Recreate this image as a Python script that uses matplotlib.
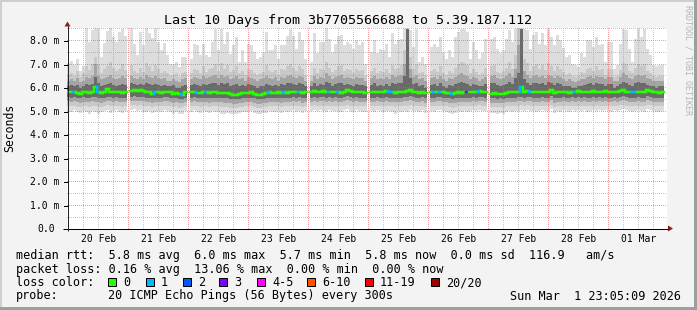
import numpy as np
import matplotlib
matplotlib.use("Agg")
import matplotlib.pyplot as plt
from matplotlib.patches import Rectangle, Polygon
from matplotlib.collections import LineCollection

N = None

# ---------------- data ----------------
title = "Last 10 Days from 3b7705566688 to 5.39.187.112"
y_label = "Seconds"
watermark = "RRDTOOL / TOBI OETIKER"
day_labels = ["20 Feb", "21 Feb", "22 Feb", "23 Feb", "24 Feb",
              "25 Feb", "26 Feb", "27 Feb", "28 Feb", "01 Mar"]
y_tick_values = [0, 1, 2, 3, 4, 5, 6, 7, 8]
y_tick_labels = ["0.0", "1.0 m", "2.0 m", "3.0 m", "4.0 m",
                 "5.0 m", "6.0 m", "7.0 m", "8.0 m"]

# time axis: hours relative to 20 Feb 00:00
x_start_h, x_end_h = -0.4, 239.6
bar_start_h = -0.4
bar_width_h = 1.2

# ping distribution per bar (ms): outer -> inner band limits, median
smoke_max = [
    7.05, 7.15, 6.95, 7.2, 6.7, 6.9, 8.6, 7.94, 8.44, 8.6, 8.5, 7.3, 7.9, 8.4, 8.6, 8.15, 7.95, 8.35, 8.5, 8.2,
    N, 8.6, 7.87, 7.4, 8.37, 7.8, 8.6, 8.3, 8.1, 8.6, 7.95, 7.6, 7.9, 7.37, 7.0, 7.0, 7.1, 6.88, 7.3, 7.3,
    N, 7.23, 7.87, 7.8, 7.37, 7.87, 7.37, 7.3, 7.94, 8.5, 7.6, 8.5, 7.87, 8.37, 7.44, 7.8, 8.15, 7.1, 7.6, 7.1,
    7.87, 7.8, 7.5, 7.23, 7.3, 7.5, 8.37, 7.6, 7.6, 7.8, 7.23, 7.8, 7.8, 8.2, 8.5, 8.2, 7.65, 8.37, 8.0, 7.23,
    N, 7.1, 8.3, 7.45, 7.94, 7.94, 8.6, 8.08, 7.52, 7.87, 8.2, 8.23, 7.8, 7.94, 7.87, 7.65, 8.0, 7.8, 7.94, 7.0,
    N, 7.52, 8.0, 7.45, 7.65, 7.6, 7.87, 7.3, 8.3, 7.87, 8.0, 8.08, 8.6, 8.6, 8.44, 7.73, 8.5, 7.1, 7.3, 7.0,
    N, 7.73, 7.87, 7.73, 8.15, 7.52, 7.23, 7.6, 7.3, 8.15, 8.37, 8.5, 8.5, 8.37, 7.23, 7.94, 7.6, 7.23, 7.45, 8.08,
    N, 8.08, 8.15, 7.65, 7.45, 7.6, 8.08, 8.44, 7.94, 8.5, 8.6, 8.6, 8.5, 8.44, 7.65, 8.23, 8.37, 7.87, 8.3, 7.8,
    8.5, 8.15, 7.8, 8.23, 8.0, 7.7, 7.3, 7.37, 7.0, 6.95, 6.88, 7.45, 7.3, 8.0, 8.0, 7.73, 8.15, 7.8, 7.87, 7.1,
    7.94, 7.94, 6.8, 6.95, 7.87, 8.5, 8.44, 7.65, 7.1, 8.08, 8.5, 8.15, 8.5, 7.65, 7.37, 6.95, 6.9, 6.95, 6.95,
]
smoke_hi1 = [
    6.55, 6.6, 6.5, 6.7, 6.45, 6.6, 6.9, 6.75, 7.0, 7.3, 6.95, 6.6, 6.8, 6.9, 7.1, 6.85, 6.7, 6.8, 7.0, 6.75,
    N, 6.95, 6.7, 6.6, 6.85, 6.65, 7.05, 6.9, 6.7, 6.95, 6.8, 6.6, 6.7, 6.6, 6.5, 6.55, 6.6, 6.45, 6.6, 6.65,
    N, 6.6, 6.8, 6.75, 6.6, 6.9, 6.65, 6.8, 6.85, 7.0, 6.7, 7.05, 6.8, 6.95, 6.65, 6.75, 6.9, 6.6, 6.7, 6.55,
    6.8, 6.75, 6.6, 6.55, 6.6, 6.65, 6.95, 6.7, 6.65, 6.75, 6.55, 6.8, 6.75, 6.9, 7.0, 6.85, 6.7, 6.9, 6.8, 6.55,
    N, 6.5, 6.85, 6.6, 6.8, 6.75, 7.1, 6.85, 6.65, 6.75, 6.9, 6.95, 6.7, 6.8, 6.75, 6.6, 6.8, 6.7, 6.75, 6.5,
    N, 6.7, 6.85, 6.6, 6.7, 6.65, 6.8, 6.6, 6.95, 6.8, 6.85, 6.95, 7.6, 8.5, 7.3, 6.8, 7.0, 6.6, 6.65, 6.55,
    N, 6.7, 6.8, 6.65, 6.9, 6.6, 6.55, 6.7, 6.6, 6.85, 7.0, 7.1, 7.05, 6.95, 6.6, 6.8, 6.65, 6.55, 6.6, 6.85,
    N, 6.9, 6.95, 6.65, 6.6, 6.7, 6.85, 7.1, 6.8, 7.4, 8.5, 8.5, 7.2, 7.05, 6.7, 6.9, 7.0, 6.8, 6.95, 6.75,
    7.05, 6.9, 6.7, 6.9, 6.8, 6.65, 6.55, 6.6, 6.5, 6.45, 6.5, 6.65, 6.6, 6.8, 6.85, 6.7, 6.9, 6.75, 6.8, 6.55,
    6.8, 6.8, 6.45, 6.5, 6.75, 7.05, 7.0, 6.7, 6.6, 6.85, 7.0, 6.9, 7.0, 6.7, 6.6, 6.5, 6.45, 6.5, 6.5,
]
smoke_hi2 = [
    6.3, 6.35, 6.3, 6.4, 6.25, 6.3, 6.45, 6.4, 6.5, 7.0, 6.5, 6.35, 6.4, 6.45, 6.55, 6.4, 6.35, 6.4, 6.5, 6.4,
    N, 6.5, 6.4, 6.35, 6.45, 6.35, 6.55, 6.45, 6.4, 6.5, 6.4, 6.35, 6.4, 6.3, 6.3, 6.35, 6.3, 6.25, 6.35, 6.4,
    N, 6.35, 6.45, 6.4, 6.35, 6.5, 6.4, 6.45, 6.5, 6.55, 6.4, 6.55, 6.45, 6.5, 6.35, 6.4, 6.5, 6.35, 6.4, 6.3,
    6.45, 6.4, 6.35, 6.3, 6.35, 6.4, 6.5, 6.4, 6.35, 6.45, 6.3, 6.45, 6.4, 6.5, 6.55, 6.45, 6.4, 6.5, 6.45, 6.3,
    N, 6.3, 6.5, 6.35, 6.45, 6.4, 6.6, 6.5, 6.35, 6.45, 6.5, 6.55, 6.4, 6.45, 6.4, 6.35, 6.45, 6.4, 6.4, 6.3,
    N, 6.4, 6.5, 6.35, 6.4, 6.35, 6.45, 6.35, 6.55, 6.45, 6.5, 6.55, 7.0, 8.5, 6.8, 6.45, 6.55, 6.35, 6.4, 6.3,
    N, 6.4, 6.45, 6.35, 6.5, 6.35, 6.3, 6.4, 6.35, 6.45, 6.55, 6.6, 6.55, 6.5, 6.35, 6.45, 6.4, 6.3, 6.35, 6.45,
    N, 6.5, 6.55, 6.4, 6.35, 6.4, 6.5, 6.6, 6.45, 6.8, 7.8, 8.5, 6.7, 6.55, 6.4, 6.5, 6.55, 6.45, 6.5, 6.4,
    6.55, 6.5, 6.4, 6.5, 6.45, 6.35, 6.3, 6.35, 6.3, 6.25, 6.3, 6.35, 6.35, 6.45, 6.5, 6.4, 6.5, 6.45, 6.45, 6.35,
    6.45, 6.45, 6.3, 6.3, 6.45, 6.6, 6.55, 6.4, 6.35, 6.5, 6.55, 6.5, 6.55, 6.4, 6.35, 6.3, 6.3, 6.3, 6.3,
]
smoke_hi3 = [
    6.05, 6.1, 6.05, 6.1, 6.0, 6.05, 6.15, 6.1, 6.15, 6.45, 6.2, 6.05, 6.1, 6.15, 6.2, 6.1, 6.05, 6.1, 6.15, 6.1,
    N, 6.2, 6.15, 6.1, 6.15, 6.1, 6.2, 6.15, 6.1, 6.15, 6.1, 6.05, 6.1, 6.05, 6.05, 6.1, 6.0, 6.0, 6.05, 6.1,
    N, 6.1, 6.15, 6.1, 6.05, 6.15, 6.1, 6.15, 6.2, 6.2, 6.1, 6.2, 6.15, 6.2, 6.05, 6.1, 6.15, 6.05, 6.1, 6.05,
    6.15, 6.1, 6.05, 6.0, 6.05, 6.05, 6.15, 6.1, 6.05, 6.1, 6.05, 6.15, 6.1, 6.2, 6.2, 6.15, 6.1, 6.2, 6.15, 6.05,
    N, 6.05, 6.2, 6.05, 6.15, 6.1, 6.25, 6.2, 6.05, 6.15, 6.2, 6.2, 6.1, 6.15, 6.1, 6.05, 6.15, 6.1, 6.1, 6.05,
    N, 6.1, 6.2, 6.05, 6.1, 6.05, 6.15, 6.05, 6.2, 6.15, 6.2, 6.2, 6.5, 8.5, 6.4, 6.15, 6.2, 6.05, 6.1, 6.0,
    N, 6.1, 6.15, 6.05, 6.2, 6.05, 6.0, 6.1, 6.05, 6.15, 6.2, 6.25, 6.2, 6.15, 6.05, 6.15, 6.1, 6.05, 6.05, 6.15,
    N, 6.2, 6.2, 6.1, 6.05, 6.1, 6.15, 6.25, 6.15, 6.4, 6.6, 8.5, 6.35, 6.2, 6.1, 6.2, 6.2, 6.15, 6.2, 6.1,
    6.25, 6.2, 6.1, 6.2, 6.15, 6.05, 6.05, 6.05, 6.0, 6.0, 6.05, 6.05, 6.1, 6.15, 6.2, 6.1, 6.2, 6.15, 6.15, 6.05,
    6.15, 6.15, 6.0, 6.05, 6.15, 6.25, 6.2, 6.1, 6.05, 6.2, 6.25, 6.2, 6.2, 6.1, 6.05, 6.05, 6.0, 6.05, 6.05,
]
median_rtt = [
    5.82, 5.8, 5.8, 5.78, 5.74, 5.8, 5.8, 5.78, 5.82, 6.02, 5.8, 5.78, 5.8, 5.93, 5.82, 5.8, 5.8, 5.8, 5.78, 5.8,
    N, 5.86, 5.88, 5.84, 5.88, 5.85, 5.82, 5.8, 5.74, 5.82, 5.8, 5.78, 5.82, 5.82, 5.8, 5.74, 5.78, 5.72, 5.7, 5.8,
    N, 5.8, 5.82, 5.78, 5.78, 5.8, 5.8, 5.76, 5.8, 5.8, 5.78, 5.78, 5.76, 5.76, 5.72, 5.7, 5.7, 5.74, 5.76, 5.78,
    5.78, 5.8, 5.74, 5.68, 5.68, 5.72, 5.76, 5.8, 5.78, 5.78, 5.8, 5.76, 5.8, 5.78, 5.8, 5.82, 5.8, 5.82, 5.76, 5.8,
    N, 5.8, 5.86, 5.8, 5.82, 5.84, 5.8, 5.82, 5.8, 5.82, 5.8, 5.78, 5.82, 5.9, 5.84, 5.8, 5.82, 5.8, 5.8, 5.78,
    N, 5.8, 5.8, 5.82, 5.8, 5.8, 5.84, 5.8, 5.8, 5.78, 5.8, 5.8, 5.82, 5.84, 5.92, 5.82, 5.8, 5.78, 5.82, 5.76,
    N, 5.8, 5.8, 5.82, 5.82, 5.8, 5.78, 5.76, 5.72, 5.76, 5.8, 5.78, 5.8, 5.8, 5.8, 5.82, 5.8, 5.86, 5.82, 5.8,
    N, 5.74, 5.76, 5.72, 5.74, 5.72, 5.78, 5.8, 5.8, 5.8, 5.8, 6.03, 5.8, 5.86, 5.82, 5.8, 5.8, 5.8, 5.82, 5.8,
    5.8, 5.92, 5.76, 5.8, 5.8, 5.82, 5.8, 5.78, 5.82, 5.8, 5.84, 5.8, 5.82, 5.8, 5.8, 5.84, 5.8, 5.82, 5.8, 5.84,
    5.8, 5.8, 5.82, 5.8, 5.86, 5.88, 5.82, 5.8, 5.8, 5.8, 5.82, 5.8, 5.8, 5.92, 5.86, 5.8, 5.8, 5.78, 5.8,
]
smoke_lo3 = [
    5.6, 5.58, 5.6, 5.56, 5.55, 5.6, 5.58, 5.57, 5.6, 5.62, 5.58, 5.56, 5.58, 5.62, 5.6, 5.58, 5.6, 5.58, 5.56, 5.58,
    N, 5.62, 5.64, 5.6, 5.62, 5.6, 5.58, 5.58, 5.55, 5.58, 5.58, 5.56, 5.6, 5.6, 5.58, 5.55, 5.56, 5.52, 5.52, 5.58,
    N, 5.58, 5.6, 5.56, 5.57, 5.58, 5.58, 5.55, 5.58, 5.58, 5.56, 5.56, 5.55, 5.55, 5.52, 5.5, 5.5, 5.53, 5.55, 5.56,
    5.56, 5.58, 5.54, 5.5, 5.5, 5.52, 5.55, 5.58, 5.56, 5.56, 5.58, 5.55, 5.58, 5.56, 5.58, 5.6, 5.58, 5.6, 5.55, 5.58,
    N, 5.58, 5.62, 5.58, 5.6, 5.6, 5.58, 5.6, 5.58, 5.6, 5.58, 5.56, 5.6, 5.64, 5.6, 5.58, 5.6, 5.58, 5.58, 5.56,
    N, 5.58, 5.58, 5.6, 5.58, 5.58, 5.6, 5.58, 5.58, 5.56, 5.58, 5.58, 5.6, 5.6, 5.64, 5.6, 5.58, 5.56, 5.6, 5.55,
    N, 5.58, 5.58, 5.6, 5.6, 5.58, 5.56, 5.55, 5.52, 5.55, 5.58, 5.56, 5.58, 5.58, 5.58, 5.6, 5.58, 5.62, 5.6, 5.58,
    N, 5.54, 5.55, 5.52, 5.54, 5.52, 5.56, 5.58, 5.58, 5.58, 5.6, 5.62, 5.58, 5.62, 5.6, 5.58, 5.58, 5.58, 5.6, 5.58,
    5.58, 5.64, 5.55, 5.58, 5.58, 5.6, 5.58, 5.56, 5.6, 5.58, 5.6, 5.58, 5.6, 5.58, 5.58, 5.6, 5.58, 5.6, 5.58, 5.6,
    5.58, 5.58, 5.6, 5.58, 5.62, 5.64, 5.6, 5.58, 5.58, 5.58, 5.6, 5.58, 5.58, 5.64, 5.62, 5.58, 5.58, 5.56, 5.58,
]
smoke_lo2 = [
    5.42, 5.4, 5.42, 5.38, 5.36, 5.4, 5.38, 5.4, 5.42, 5.4, 5.38, 5.36, 5.4, 5.44, 5.42, 5.4, 5.42, 5.4, 5.38, 5.4,
    N, 5.44, 5.45, 5.42, 5.44, 5.42, 5.4, 5.4, 5.36, 5.4, 5.4, 5.38, 5.42, 5.42, 5.4, 5.36, 5.38, 5.34, 5.34, 5.4,
    N, 5.4, 5.42, 5.38, 5.38, 5.4, 5.4, 5.36, 5.4, 5.4, 5.38, 5.38, 5.36, 5.36, 5.34, 5.32, 5.32, 5.35, 5.36, 5.38,
    5.38, 5.4, 5.36, 5.32, 5.32, 5.34, 5.36, 5.4, 5.38, 5.38, 5.4, 5.36, 5.4, 5.38, 5.4, 5.42, 5.4, 5.42, 5.36, 5.4,
    N, 5.4, 5.44, 5.4, 5.42, 5.42, 5.4, 5.42, 5.4, 5.42, 5.4, 5.38, 5.42, 5.46, 5.42, 5.4, 5.42, 5.4, 5.4, 5.38,
    N, 5.4, 5.4, 5.42, 5.4, 5.4, 5.42, 5.4, 5.4, 5.38, 5.4, 5.4, 5.42, 5.42, 5.46, 5.42, 5.4, 5.38, 5.42, 5.36,
    N, 5.4, 5.4, 5.42, 5.42, 5.4, 5.38, 5.36, 5.34, 5.36, 5.4, 5.38, 5.4, 5.4, 5.4, 5.42, 5.4, 5.44, 5.42, 5.4,
    N, 5.36, 5.36, 5.34, 5.36, 5.34, 5.38, 5.4, 5.4, 5.4, 5.42, 5.44, 5.4, 5.44, 5.42, 5.4, 5.4, 5.4, 5.42, 5.4,
    5.4, 5.46, 5.36, 5.4, 5.4, 5.42, 5.4, 5.38, 5.42, 5.4, 5.42, 5.4, 5.42, 5.4, 5.4, 5.42, 5.4, 5.42, 5.4, 5.42,
    5.4, 5.4, 5.42, 5.4, 5.44, 5.46, 5.42, 5.4, 5.4, 5.4, 5.42, 5.4, 5.4, 5.46, 5.44, 5.4, 5.4, 5.38, 5.4,
]
smoke_lo1 = [
    5.22, 5.2, 5.24, 5.18, 5.16, 5.22, 5.2, 5.18, 5.22, 5.2, 5.16, 5.18, 5.22, 5.25, 5.2, 5.22, 5.24, 5.2, 5.18, 5.22,
    N, 5.26, 5.28, 5.24, 5.26, 5.22, 5.2, 5.22, 5.18, 5.2, 5.22, 5.2, 5.24, 5.22, 5.2, 5.16, 5.2, 5.15, 5.16, 5.22,
    N, 5.2, 5.24, 5.2, 5.18, 5.22, 5.2, 5.18, 5.22, 5.2, 5.2, 5.18, 5.16, 5.18, 5.15, 5.14, 5.14, 5.16, 5.18, 5.2,
    5.2, 5.22, 5.18, 5.14, 5.15, 5.16, 5.18, 5.22, 5.2, 5.2, 5.22, 5.18, 5.22, 5.2, 5.22, 5.24, 5.2, 5.24, 5.18, 5.22,
    N, 5.22, 5.26, 5.22, 5.24, 5.24, 5.2, 5.24, 5.22, 5.24, 5.22, 5.2, 5.24, 5.28, 5.24, 5.22, 5.24, 5.22, 5.2, 5.2,
    N, 5.22, 5.2, 5.24, 5.22, 5.2, 5.24, 5.22, 5.2, 5.18, 5.22, 5.2, 5.24, 5.22, 5.28, 5.24, 5.22, 5.2, 5.24, 5.18,
    N, 5.22, 5.2, 5.24, 5.24, 5.22, 5.2, 5.18, 5.15, 5.18, 5.22, 5.2, 5.22, 5.2, 5.22, 5.24, 5.22, 5.26, 5.24, 5.22,
    N, 5.18, 5.18, 5.16, 5.18, 5.15, 5.2, 5.22, 5.2, 5.22, 5.24, 5.26, 5.22, 5.26, 5.24, 5.22, 5.2, 5.22, 5.24, 5.22,
    5.22, 5.28, 5.18, 5.22, 5.2, 5.24, 5.22, 5.2, 5.24, 5.22, 5.24, 5.22, 5.24, 5.2, 5.22, 5.24, 5.22, 5.24, 5.22, 5.24,
    5.22, 5.2, 5.24, 5.22, 5.26, 5.28, 5.24, 5.22, 5.2, 5.22, 5.24, 5.22, 5.2, 5.28, 5.26, 5.22, 5.2, 5.2, 5.22,
]
smoke_min = [
    5.0, 4.98, 5.05, 4.95, 4.92, 5.02, 4.95, 4.9, 5.0, 4.96, 4.88, 4.95, 5.02, 5.05, 4.94, 5.0, 5.04, 4.98, 4.92, 5.0,
    N, 5.06, 5.1, 5.02, 5.06, 4.98, 4.96, 5.0, 4.92, 4.98, 5.02, 4.96, 5.04, 5.0, 4.98, 4.9, 4.96, 4.88, 4.9, 5.0,
    N, 4.98, 5.04, 4.98, 4.94, 5.0, 4.96, 4.92, 5.0, 4.98, 4.96, 4.9, 4.88, 4.94, 4.9, 4.88, 4.9, 4.92, 4.96, 4.98,
    4.96, 5.0, 4.94, 4.88, 4.9, 4.92, 4.94, 5.0, 4.98, 4.96, 5.0, 4.92, 5.0, 4.96, 5.0, 5.04, 4.98, 5.02, 4.94, 5.0,
    N, 5.0, 5.06, 5.0, 5.04, 5.02, 4.96, 5.04, 5.0, 5.02, 4.98, 4.96, 5.04, 5.1, 5.02, 4.98, 5.04, 5.0, 4.96, 4.98,
    N, 5.0, 4.96, 5.04, 5.0, 4.96, 5.02, 5.0, 4.95, 4.9, 5.0, 4.96, 5.02, 4.98, 5.06, 5.02, 5.0, 4.96, 5.04, 4.94,
    N, 5.0, 4.96, 5.04, 5.04, 5.0, 4.96, 4.92, 4.88, 4.94, 5.0, 4.96, 5.0, 4.96, 5.0, 5.04, 5.0, 5.06, 5.02, 5.0,
    N, 4.92, 4.94, 4.9, 4.94, 4.88, 4.96, 5.0, 4.96, 5.0, 5.02, 5.04, 5.0, 5.06, 5.02, 5.0, 4.96, 5.0, 5.04, 5.0,
    5.0, 5.08, 4.94, 5.0, 4.98, 5.04, 5.0, 4.96, 5.04, 5.0, 5.04, 5.0, 5.04, 4.98, 5.0, 5.04, 5.0, 5.04, 5.0, 5.04,
    5.0, 4.98, 5.04, 5.0, 5.06, 5.1, 5.04, 5.0, 4.96, 5.0, 5.04, 5.0, 4.98, 5.1, 5.06, 5.0, 4.98, 4.98, 5.02,
]

# bars with packet loss (index -> lost pings out of 20)
loss_bar_index = [2, 10, 29, 38, 43, 46, 67, 72, 77, 87, 90, 107, 108, 122, 124, 128, 133, 137, 151, 154, 169, 188, 189]
loss_bar_count = [1, 1, 1, 1, 1, 1, 1, 1, 1, 1, 1, 1, 1, 1, 1, 1, 3, 1, 1, 1, 1, 1, 1]

loss_legend_labels = ["0", "1", "2", "3", "4-5", "6-10", "11-19", "20/20"]
loss_legend_upper = [0, 1, 2, 3, 5, 10, 19, 20]
loss_legend_colors = ["#26ff00", "#00b8ff", "#0059ff", "#7e00ff",
                      "#ff00ff", "#ff5500", "#ff0000", "#a10000"]

legend_rtt = "median rtt:  5.8 ms avg  6.0 ms max  5.7 ms min  5.8 ms now  0.0 ms sd  116.9   am/s"
legend_loss = "packet loss: 0.16 % avg  13.06 % max  0.00 % min  0.00 % now"
legend_color_label = "loss color:"
legend_probe_label = "probe:"
legend_probe = "20 ICMP Echo Pings (56 Bytes) every 300s"
legend_date = "Sun Mar  1 23:05:09 2026"

# ---------------- figure ----------------
W, H, DPI = 697, 310, 100
PX = 72.0 / DPI
MONO = "DejaVu Sans Mono"

fig = plt.figure(figsize=(W / DPI, H / DPI), dpi=DPI)
fig.patch.set_facecolor("#f3f3f3")

# plot area in pixels (top-left origin), pixel exact
PL, PR, PT, PB = 67, 667, 28, 229
YMAX = 8.53
ax = fig.add_axes([PL / W, (H - PB) / H, (PR - PL) / W, (PB - PT) / H])
ax.set_xlim(x_start_h, x_end_h)
ax.set_ylim(0, YMAX)
ax.set_facecolor("white")
for s in ax.spines.values():
    s.set_visible(False)
ax.set_xticks([])
ax.set_yticks([])

def arr(a):
    return np.array(a, dtype=float)

mx, h1, h2, h3 = arr(smoke_max), arr(smoke_hi1), arr(smoke_hi2), arr(smoke_hi3)
md = arr(median_rtt)
l3, l2, l1, mn = arr(smoke_lo3), arr(smoke_lo2), arr(smoke_lo1), arr(smoke_min)
n = len(mx)
xs = bar_start_h + bar_width_h * np.arange(n)
ok = ~np.isnan(mx)

bands = [(mn, mx, "#dddddd"), (l1, h1, "#c8c8c8"), (l2, h2, "#a4a4a4"), (l3, h3, "#6a6a6a")]
for lo, hi, c in bands:
    ax.bar(xs[ok], (hi - lo)[ok], bottom=lo[ok], width=bar_width_h, align="edge",
           color=c, linewidth=0, antialiased=False, zorder=1)

# ---- dotted grid rendered pixel-exact as an image over the plot area ----
def ypix(v):
    return PB - v * (PB - PT) / YMAX

def xpix(h):
    return PL + (h - x_start_h) * (PR - PL) / (x_end_h - x_start_h)

gh, gw = PB - PT, PR - PL
grid = np.zeros((gh, gw, 4))
minor_rgba = (0.56, 0.56, 0.56, 0.5)
major_rgba = (0.87, 0.31, 0.31, 0.55)
for v in np.arange(0.5, 8.6, 1.0):
    r = int(ypix(v)) - PT
    if 0 <= r < gh:
        grid[r, 0::2] = minor_rgba
for hh in range(6, 240, 6):
    if hh % 24:
        c = int(xpix(hh)) - PL
        grid[0::2, c] = minor_rgba
for v in y_tick_values[1:]:
    r = int(ypix(v)) - PT
    grid[r, 0::2] = major_rgba
for hh in range(0, 240, 24):
    c = int(xpix(hh)) - PL
    grid[0::2, c] = major_rgba
ax.imshow(grid, extent=(x_start_h, x_end_h, 0, YMAX), origin="upper",
          interpolation="nearest", aspect="auto", zorder=3)

# median line colored by loss
loss = np.zeros(n, dtype=int)
loss[loss_bar_index] = loss_bar_count

def loss_color(c):
    for up, col in zip(loss_legend_upper, loss_legend_colors):
        if c <= up:
            return col
    return loss_legend_colors[-1]

segs, cols = [], []
for i in range(n):
    if not ok[i]:
        continue
    col = loss_color(loss[i])
    x0, x1 = xs[i], xs[i] + bar_width_h
    if i > 0 and ok[i - 1] and md[i - 1] != md[i]:
        segs.append([(x0, md[i - 1]), (x0, md[i])])
        cols.append(col)
    segs.append([(x0, md[i]), (x1, md[i])])
    cols.append(col)
ax.add_collection(LineCollection(segs, colors=cols, linewidths=2.4 * PX,
                                 capstyle="projecting", zorder=4))
ax.set_xlim(x_start_h, x_end_h)
ax.set_ylim(0, YMAX)

# ---------------- overlay in pixel coordinates ----------------
ov = fig.add_axes([0, 0, 1, 1], zorder=5)
ov.set_xlim(0, W)
ov.set_ylim(H, 0)
ov.axis("off")

# frame shading
ov.add_patch(Rectangle((0, 0), W, 2, color="#cfcfcf", lw=0))
ov.add_patch(Rectangle((0, 0), 2, H, color="#cfcfcf", lw=0))
ov.add_patch(Rectangle((0, H - 3), W, 3, color="#9e9e9e", lw=0))
ov.add_patch(Rectangle((W - 3, 0), 3, H, color="#9e9e9e", lw=0))

# axes
ov.plot([63, 668], [228.5, 228.5], color="black", lw=PX, solid_capstyle="butt")
ov.plot([67.5, 67.5], [231, 26], color="#222222", lw=PX, solid_capstyle="butt")
arrow_c = "#8b1a1a"
ov.add_patch(Polygon([(668, 225.5), (673, 228.5), (668, 231.5)], closed=True, color=arrow_c, lw=0))
ov.add_patch(Polygon([(64.5, 26.5), (67.5, 21.5), (70.5, 26.5)], closed=True, color=arrow_c, lw=0))
for v in y_tick_values:
    yy = int(ypix(v)) + 0.5 if v else 228.5
    ov.plot([64, 67], [yy, yy], color="black", lw=PX)

# y tick labels
for v, lab in zip(y_tick_values, y_tick_labels):
    xr = 59 if " " in lab else 55
    ov.text(xr, ypix(v) + 3.5, lab, ha="right", va="baseline", fontsize=7, family=MONO)

# x labels at noon of each day
for k, lab in enumerate(day_labels):
    ov.text(xpix(12 + 24 * k) + 0.5, 241.5, lab, ha="center", va="baseline", fontsize=7, family=MONO)

# title, y label, watermark
ov.text(348.5, 24, title, ha="center", va="baseline", fontsize=9.6, family=MONO)
ov.text(10, 128, y_label, ha="center", va="center", rotation=90, fontsize=8.3, family=MONO)
ov.text(688, 5, watermark, ha="center", va="top", rotation=270, fontsize=6, family=MONO, color="#b5b5b5")

# legend
LX = 16
ov.text(LX, 259, legend_rtt, ha="left", va="baseline", fontsize=8.5, family=MONO)
ov.text(LX, 272.5, legend_loss, ha="left", va="baseline", fontsize=8.5, family=MONO)
ov.text(LX, 286, legend_color_label, ha="left", va="baseline", fontsize=8.5, family=MONO)
box_x = [108, 146, 183, 219, 257, 307, 365, 431]
for bx, lab, col in zip(box_x, loss_legend_labels, loss_legend_colors):
    ov.add_patch(Rectangle((bx, 278), 8, 8, facecolor=col, edgecolor="black", lw=PX))
    ov.text(bx + 15, 286, lab, ha="left", va="baseline", fontsize=8.5, family=MONO)
ov.text(LX, 299.5, legend_probe_label, ha="left", va="baseline", fontsize=8.5, family=MONO)
ov.text(108, 299.5, legend_probe, ha="left", va="baseline", fontsize=8.5, family=MONO)
ov.text(681, 299.5, legend_date, ha="right", va="baseline", fontsize=8.5, family=MONO)

fig.savefig("out.png", dpi=DPI, facecolor=fig.get_facecolor())
